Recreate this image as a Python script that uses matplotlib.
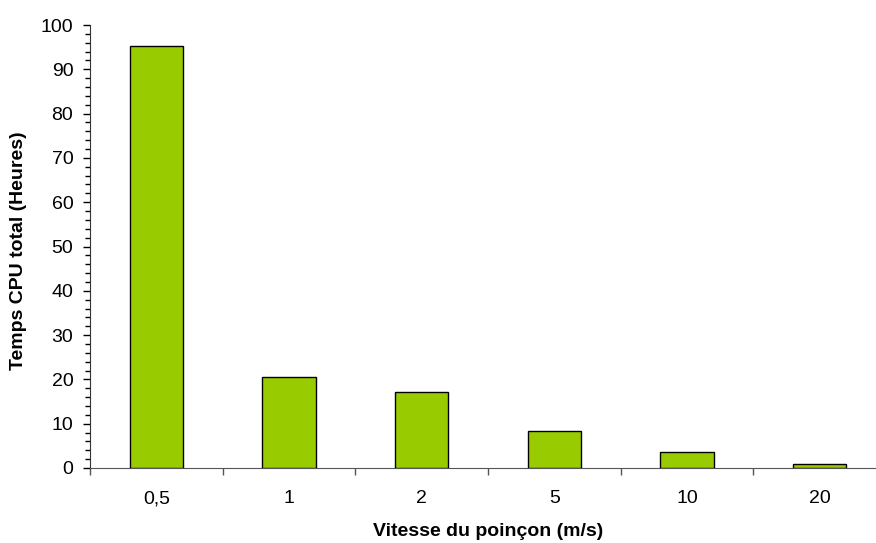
import matplotlib.pyplot as plt
import numpy as np
from matplotlib.ticker import MultipleLocator, FixedLocator

# data
vitesses = ["0,5", "1", "2", "5", "10", "20"]
temps_cpu = [95.3, 20.5, 17.2, 8.4, 3.5, 0.9]

plt.rcParams['font.family'] = ['Liberation Sans', 'DejaVu Sans']

fig = plt.figure(figsize=(8.76, 5.43), dpi=100)
W, H = 876, 543
# plot area in pixels: x 90 -> 886 (runs past the right edge), y 25 -> 468
x0, x1, y0, y1 = 90, 886, 25, 468
ax = fig.add_axes([x0 / W, (H - y1) / H, (x1 - x0) / W, (y1 - y0) / H])

x = np.arange(len(vitesses))
ax.bar(x, temps_cpu, width=0.4, color="#99CC00", edgecolor="black", linewidth=1.0, zorder=3)

ax.set_xlim(-0.5, len(vitesses) - 0.5)
ax.set_ylim(0, 100)

ax.yaxis.set_major_locator(MultipleLocator(10))
ax.yaxis.set_minor_locator(MultipleLocator(2))
ax.tick_params(axis='y', which='major', length=5, width=1, labelsize=14, pad=7)
ax.tick_params(axis='y', which='minor', length=3.5, width=1)

# category labels centred, tick marks between categories
ax.set_xticks(x)
ax.set_xticklabels(vitesses)
ax.xaxis.set_minor_locator(FixedLocator(np.arange(-0.5, len(vitesses), 1.0)))
ax.tick_params(axis='x', which='major', length=0, labelsize=14, pad=16)
ax.tick_params(axis='x', which='minor', length=5, width=1, color="#555555")

for s in ['top', 'right']:
    ax.spines[s].set_visible(False)
ax.spines['left'].set_color("#333333")
ax.spines['bottom'].set_color("#555555")

ax.set_xlabel("Vitesse du poinçon (m/s)", fontsize=14, fontweight='bold', va='center')
ax.xaxis.set_label_coords(0.5, -(531 - y1) / (y1 - y0))
ax.set_ylabel("Temps CPU total (Heures)", fontsize=14, fontweight='bold', va='center')
ax.yaxis.set_label_coords(-(x0 - 19) / (x1 - x0), 0.49)

fig.savefig("out.png", dpi=100)
